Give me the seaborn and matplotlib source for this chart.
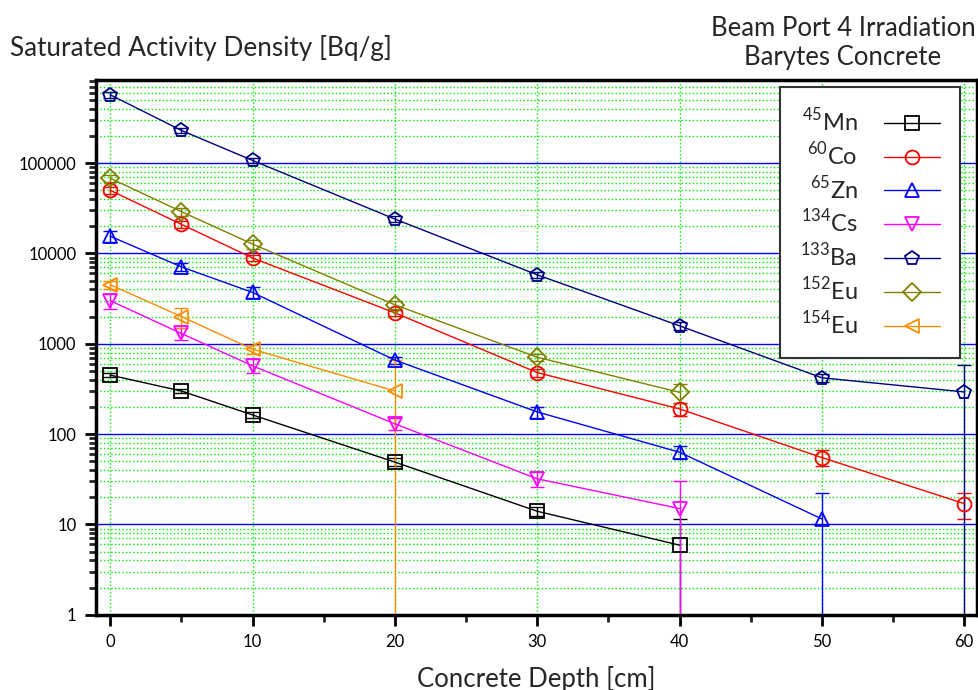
import numpy as np
import pandas as pd
import matplotlib
matplotlib.use("Agg")
import matplotlib.pyplot as plt
import matplotlib.ticker as mticker
import seaborn as sns

# depths [cm]
depth_mn = [0, 5, 10, 20, 30, 40]
depth_co = [0, 5, 10, 20, 30, 40, 50, 60]
depth_zn = [0, 5, 10, 20, 30, 40, 50]
depth_cs = [0, 5, 10, 20, 30, 40]
depth_ba = [0, 5, 10, 20, 30, 40, 50, 60]
depth_eu152 = [0, 5, 10, 20, 30, 40]
depth_eu154 = [0, 5, 10, 20]

# saturated activity density [Bq/g] and errors
mn = [450, 300, 163, 49, 14, 5.9]
mn_err = [25, 15, 12, 5, 1.5, 5.6]
co = [50000, 21000, 8900, 2200, 480, 190, 55, 17]
co_err = [4000, 1800, 700, 180, 50, 30, 11, 5.5]
zn = [15500, 7100, 3700, 660, 176, 63, 11.5]
zn_err = [2000, 700, 500, 60, 25, 10, 11.0]
cs = [3000, 1300, 570, 130, 32, 15]
cs_err = [600, 200, 100, 20, 6, 15]
ba = [570000, 230000, 107000, 24000, 5800, 1580, 420, 293]
ba_err = [40000, 15000, 8000, 2000, 500, 150, 40, 295]
eu152 = [68000, 29000, 12700, 2700, 710, 290]
eu152_err = [6000, 3000, 1500, 300, 60, 70]
eu154 = [4500, 2000, 870, 300]
eu154_err = [500, 500, 100, 360]

series = [
    (r"$^{45}$Mn", depth_mn, mn, mn_err, "black", "s"),
    (r"$^{60}$Co", depth_co, co, co_err, "red", "o"),
    (r"$^{65}$Zn", depth_zn, zn, zn_err, "blue", "^"),
    (r"$^{134}$Cs", depth_cs, cs, cs_err, "magenta", "v"),
    (r"$^{133}$Ba", depth_ba, ba, ba_err, "navy", "p"),
    (r"$^{152}$Eu", depth_eu152, eu152, eu152_err, "olive", "D"),
    (r"$^{154}$Eu", depth_eu154, eu154, eu154_err, "darkorange", "<"),
]

sns.set_style("white")
plt.rcParams["font.family"] = ["Lato", "DejaVu Sans"]
plt.rcParams["mathtext.fontset"] = "custom"
plt.rcParams["mathtext.rm"] = "Lato"

fig = plt.figure(figsize=(9.79, 6.90), dpi=100)
ax = fig.add_axes([0.098, 0.109, 0.900, 0.775])

for label, x, y, err, color, mk in series:
    df = pd.DataFrame({"depth": x, "activity": y})
    ax.errorbar(x, y, yerr=err, fmt="none", ecolor=color, elinewidth=1,
                capsize=5, capthick=1, zorder=2)
    ms = 9 if mk == "D" else 10
    sns.lineplot(data=df, x="depth", y="activity", ax=ax, color=color,
                 marker=mk, markersize=ms, markerfacecolor="none",
                 markeredgecolor=color, markeredgewidth=1.3, linewidth=1,
                 label=label, zorder=3)

ax.set_yscale("log")
ax.set_ylim(1, 8.3e5)
ax.set_xlim(-1, 60.9)
ax.set_xticks([0, 10, 20, 30, 40, 50, 60])
ax.xaxis.set_minor_locator(mticker.MultipleLocator(5))
ax.yaxis.set_major_locator(mticker.LogLocator(base=10, numticks=10))
ax.yaxis.set_minor_locator(mticker.LogLocator(base=10, subs=np.arange(2, 10), numticks=20))
ax.yaxis.set_major_formatter(mticker.FuncFormatter(lambda v, p: f"{v:.0f}"))
ax.yaxis.set_minor_formatter(mticker.NullFormatter())

ax.grid(which="major", axis="y", color="#0000ff", linestyle="-", linewidth=1)
ax.grid(which="minor", axis="y", color="#00ee00", linestyle=":", linewidth=1)
ax.grid(which="major", axis="x", color="#00ee00", linestyle=":", linewidth=1)
ax.set_axisbelow(True)

for s in ax.spines.values():
    s.set_color("black")
    s.set_linewidth(2.5)

ax.tick_params(which="major", direction="out", length=8, width=2, labelsize=12,
               left=True, bottom=True, colors="black", pad=6)
ax.tick_params(which="minor", direction="out", length=5, width=2, left=True, bottom=True)

ax.set_xlabel("Concrete Depth [cm]", fontsize=18.5, labelpad=11)
ax.set_ylabel("")
fig.text(0.010, 0.930, "Saturated Activity Density [Bq/g]", fontsize=18.8,
         ha="left", va="center")
fig.text(0.861, 0.938, "Beam Port 4 Irradiation\nBarytes Concrete", fontsize=18.5,
         ha="center", va="center", linespacing=1.2)

leg = ax.legend(loc="upper right", bbox_to_anchor=(0.981, 0.987), markerfirst=False,
                fontsize=17, frameon=True, fancybox=False, handlelength=2.4,
                labelspacing=0.25, borderpad=0.85, handletextpad=1.1, borderaxespad=0)
leg.get_frame().set_edgecolor("#333333")
leg.get_frame().set_linewidth(1.5)
leg.get_frame().set_alpha(1)

fig.savefig("out.png", dpi=100)
